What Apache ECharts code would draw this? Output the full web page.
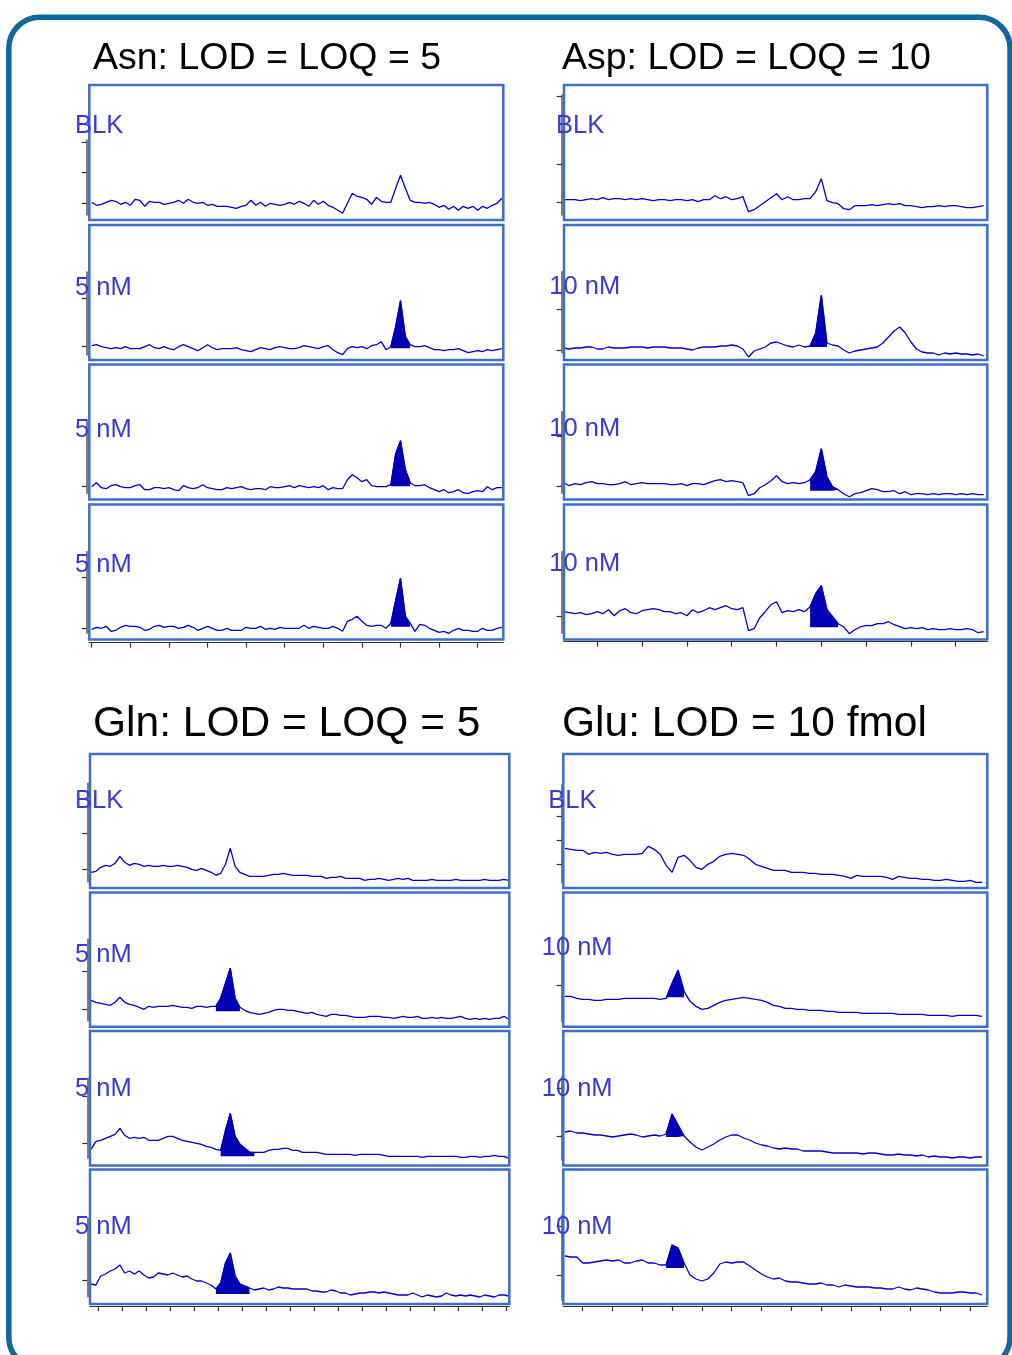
<!DOCTYPE html>
<html>
<head>
<meta charset="utf-8">
<script src="https://cdn.jsdelivr.net/npm/echarts@6/dist/echarts.min.js"></script>
<style>
  html, body { margin: 0; padding: 0; background: #fff; }
  #chart { width: 1012px; height: 1355px; }
</style>
</head>
<body>
<div id="chart"></div>
<script>
// signal traces, baseline-relative intensity (a.u.), uniform sampling per group
// Asn: t = 0 + 0.125 * i (min)
var asnBlk = [1,-2,-1,1,3,2,-1,1,-2,4, 3,-3,2,1,1,-1,0,1,3,0, 4,1,0,1,-2,-1,-3,-3,-3,-4,
  -5,-3,-2,3,-2,1,-3,0,-1,-2, -1,1,-1,2,0,-3,3,-1,2,-2, -4,-7,-10,0,10,7,6,4,-1,6,
  2,1,1,15,28,15,3,1,1,0, 1,-1,-4,-2,-6,-3,-7,-3,-5,-3, -7,-3,-5,-2,0,5];
var asn5a = [1,2,0,-1,-2,-1,-2,0,-2,-2, -2,0,2,-1,-2,0,-2,-3,0,2, 0,-2,-4,-1,2,-1,-3,-2,-2,-2,
  -1,-3,-4,-5,-3,-1,-2,-3,-1,0, -1,-2,-2,-1,1,0,-1,-2,0,1, -3,-6,-8,-2,0,-1,0,-2,1,2,
  5,-3,0,20,46,10,2,0,0,1, -1,-3,-3,-4,-3,-3,-2,-4,-6,-5, -4,-5,-3,-4,-3,-2];
var asn5b = [0,4,-1,-2,1,2,0,-1,-1,1, 2,-3,-3,-1,-1,-2,-1,-3,-4,1, -1,-2,-1,2,-1,-2,-3,-3,-1,-2,
  -1,0,-2,-3,-2,-2,-3,0,-1,-1, 0,1,-1,1,0,-1,0,-1,1,-3, -1,-2,-2,7,12,9,5,7,1,0,
  0,0,2,33,46,17,4,1,1,2, -1,-3,-5,-3,-6,-5,-3,-6,-7,-5, -4,-5,0,-3,-1,-1];
var asn5c = [-1,1,0,2,-3,-2,1,3,2,2, 1,-2,-1,2,3,1,2,2,0,1, 3,1,-2,0,2,0,-2,-2,0,-2,
  -2,-2,1,0,0,2,-1,0,-1,1, 0,0,0,0,3,0,2,1,0,0, 2,0,-3,7,9,12,7,3,2,3,
  3,0,5,28,50,12,5,-3,4,3, 0,-2,-4,-3,-5,-2,0,-2,-2,-3, -3,0,-2,-2,0,1];

// Asp: t = -0.75 + 0.125 * i
var aspBlk = [3,3,3,2,3,4,3,5,3,4, 4,3,4,3,4,3,2,3,3,2, 3,3,2,3,1,3,3,7,4,6,
  3,4,6,-9,-7,-3,1,5,9,3, 6,3,3,4,4,11,24,2,0,-1, -6,-7,-3,-3,-3,-2,-3,-2,-1,-2,
  -1,-3,-3,-4,-5,-4,-4,-3,-4,-3, -3,-4,-5,-5,-4,-3];
var asp10a = [2,1,2,2,3,3,1,1,3,2, 2,2,3,3,3,2,3,3,3,2, 2,2,1,0,2,3,3,3,4,4,
  5,4,1,-7,-1,1,3,7,8,6, 4,3,5,3,4,17,55,7,5,4, 0,-3,-1,0,1,2,3,7,13,19,
  23,17,8,1,-2,-3,-3,-5,-3,-4, -3,-4,-4,-5,-4,-6];
var asp10b = [4,1,3,2,4,5,3,3,2,2, 3,5,2,3,4,3,3,3,3,2, 2,3,1,3,3,2,4,6,7,5,
  6,5,4,-9,-7,-1,2,6,11,5, 3,4,3,4,7,15,38,10,0,-3, -7,-10,-7,-6,-4,-2,-3,-5,-5,-4,
  -7,-5,-8,-7,-7,-8,-7,-8,-7,-7, -8,-7,-8,-7,-8,-8];
var asp10c = [5,4,3,4,2,3,5,3,7,1, 6,8,4,3,6,7,8,7,5,5, 3,4,1,7,4,6,9,7,9,11,
  8,7,9,-14,-12,-1,5,12,15,4, 6,5,7,5,10,23,31,7,0,-7, -10,-17,-13,-10,-9,-9,-7,-7,-5,-8,
  -10,-12,-11,-12,-11,-13,-12,-13,-13,-12, -13,-13,-12,-13,-16,-15];

// Gln: t = -0.3 + 0.2 * i
var glnBlk = [-3,-2,2,4,3,6,13,7,4,6, 5,3,4,3,3,4,3,3,4,3, 2,0,-1,1,-1,-3,-6,-4,5,21,
  3,-3,-5,-7,-7,-7,-7,-6,-5,-5, -4,-5,-6,-6,-6,-6,-7,-7,-7,-9, -8,-8,-7,-9,-9,-9,-9,-11,-10,-10,
  -9,-10,-11,-10,-9,-10,-9,-11,-11,-11, -11,-10,-11,-11,-11,-11,-10,-11,-11,-11, -11,-11,-10,-11,-11,-11,-10,-11];
var gln5a = [9,7,6,5,4,7,12,7,5,4, 2,0,3,2,3,3,3,4,3,2, 2,1,3,3,2,3,3,11,26,41,
  11,2,-1,-3,-4,-5,-4,-3,-1,0, 0,-1,-1,-2,-3,-4,-3,-5,-6,-7, -5,-5,-6,-6,-7,-8,-8,-8,-7,-7,
  -7,-8,-8,-9,-8,-7,-8,-8,-7,-9, -9,-8,-9,-8,-9,-9,-8,-7,-9,-10, -9,-10,-9,-10,-9,-9,-7,-10];
var gln5b = [-6,2,3,5,7,9,15,8,5,6, 5,6,3,3,3,5,7,7,5,3, 2,1,0,-1,-3,-4,-6,-7,13,30,
  7,-1,-5,-9,-9,-9,-9,-7,-6,-6, -5,-5,-7,-7,-9,-9,-9,-9,-10,-11, -11,-11,-11,-11,-11,-12,-11,-11,-11,-11,
  -11,-12,-13,-13,-13,-13,-13,-13,-13,-14, -13,-13,-13,-13,-13,-13,-13,-14,-14,-13, -13,-14,-13,-13,-12,-13,-13,-15];
var gln5c = [-4,-5,4,6,9,11,15,7,9,6, 9,5,2,3,7,6,5,7,5,3, 4,1,-1,-1,-3,-5,-9,-3,17,27,
  4,-4,-6,-8,-10,-9,-8,-10,-9,-7, -8,-8,-9,-9,-9,-9,-11,-11,-12,-12, -10,-11,-13,-13,-15,-14,-13,-13,-12,-12,
  -13,-12,-13,-14,-15,-15,-15,-13,-15,-17, -15,-16,-17,-16,-13,-15,-16,-15,-16,-15, -16,-17,-15,-16,-17,-15,-15,-16];

// Glu: t = -0.6 + 0.2 * i
var gluBlk = [16,15,14,14,10,12,11,12,10,9, 10,10,10,11,18,15,10,-1,-8,7, 9,4,-3,-5,0,3,8,10,11,10,
  9,5,0,-2,-4,-6,-6,-6,-8,-8, -8,-9,-9,-10,-10,-10,-11,-12,-14,-11, -12,-12,-12,-12,-13,-15,-12,-13,-14,-14,
  -15,-15,-16,-16,-15,-16,-17,-17,-16,-18, -18];
var glu10a = [2,2,0,-1,-1,-2,-2,-1,-1,-1, 0,0,0,0,0,0,-1,0,15,28, 7,-3,-8,-11,-10,-7,-4,-2,-1,0,
  1,0,-1,-2,-4,-7,-8,-10,-10,-11, -11,-12,-12,-12,-13,-13,-14,-14,-14,-14, -15,-15,-15,-15,-15,-15,-16,-16,-16,-16,
  -16,-17,-17,-17,-17,-18,-17,-17,-17,-17, -18];
var glu10b = [4,5,3,3,2,1,1,0,-1,0, 1,2,1,-1,0,1,0,2,22,11, 0,-6,-11,-14,-11,-8,-4,-1,1,1,
  -2,-4,-7,-9,-10,-12,-13,-12,-13,-13, -15,-15,-15,-15,-16,-17,-17,-17,-17,-17, -18,-17,-17,-18,-19,-19,-18,-19,-19,-20,
  -19,-21,-20,-21,-21,-22,-21,-21,-22,-21, -21];
var glu10c = [19,18,18,12,12,13,14,15,14,15, 12,12,14,15,12,12,10,10,30,27, 12,0,-4,-6,-4,2,11,13,12,13,
  13,9,5,1,-2,-4,-3,-6,-7,-7, -8,-9,-9,-8,-10,-10,-12,-10,-11,-12, -12,-12,-13,-13,-14,-14,-12,-14,-15,-13,
  -14,-15,-17,-18,-18,-18,-17,-17,-18,-18, -20];

// x tick values (min)
var asnTicks = [0,1,2,3,4,5,6,7,8,9,10];
var aspTicks = [0,1,2,3,4,5,6,7,8];
var glnTicks = [0,1,2,3,4,5,6,7,8,9,10,11,12,13,14,15,16,17];
var gluTicks = [0,1,2,3,4,5,6,7,8,9,10,11,12,13];

// integrated peak windows: [tStart, tEnd, baseline]
var asnPeaks = [null, [7.75, 8.25, -1.5], [7.75, 8.25, 0.5], [7.75, 8.25, 1.5]];
var aspPeaks = [null, [4.75, 5.125, 3], [4.75, 5.375, -4], [4.75, 5.375, -10.5]];
var glnPeaks = [null, [4.9, 5.9, -2], [5.1, 6.5, -13], [4.9, 6.3, -14]];
var gluPeaks = [null, [2.8, 3.4, 1], [2.8, 3.4, -1], [2.8, 3.4, 7]];

// page layout (pixels)
var groups = [
  { title: 'Asn: LOD = LOQ = 5', tx: 93, ty: 56.5, ts: 37.5,
    fx: [89.3, 503.3], fy: [[85, 220], [225, 360], [364.5, 499.5], [504.5, 639.5]],
    xMin: -0.062, xMax: 10.663, t0: 0, dt: 0.125, ticks: asnTicks, xAxisY: 642.7, yAxisX: 86.7,
    peaks: asnPeaks,
    panels: [
      { label: 'BLK', lx: 75, ly: 124.5, axis: [140, 215], base: 203.3, yt: [142.3, 172.7, 203.3], data: asnBlk },
      { label: '5 nM', lx: 75, ly: 286.7, axis: [272, 355], base: 346.7, yt: [298.3, 346.7], data: asn5a },
      { label: '5 nM', lx: 75, ly: 428.3, axis: [420, 493.3], base: 486.7, yt: [486.7], data: asn5b },
      { label: '5 nM', lx: 75, ly: 563.3, axis: [551.7, 633.3], base: 628.3, yt: [577.3, 628.3], data: asn5c }
    ] },
  { title: 'Asp: LOD = LOQ = 10', tx: 562, ty: 56.5, ts: 37.5,
    fx: [564, 987.3], fy: [[85, 220], [225, 360], [364.5, 499.5], [504.5, 639.5]],
    xMin: -0.743, xMax: 8.705, t0: -0.75, dt: 0.125, ticks: aspTicks, xAxisY: 641.7, yAxisX: 561.7,
    peaks: aspPeaks,
    panels: [
      { label: 'BLK', lx: 556, ly: 124.7, axis: [95, 215], base: 202.7, yt: [96.7, 164.3, 202.7], data: aspBlk },
      { label: '10 nM', lx: 549.3, ly: 285.8, axis: [271.7, 353], base: 350, yt: [309.3, 350], data: asp10a },
      { label: '10 nM', lx: 549.3, ly: 428, axis: [411.7, 493.3], base: 486.7, yt: [436.7, 486.7], data: asp10b },
      { label: '10 nM', lx: 549.3, ly: 562.8, axis: [551.7, 633.3], base: 616.7, yt: [616.7], data: asp10c }
    ] },
  { title: 'Gln: LOD = LOQ = 5', tx: 93, ty: 722.5, ts: 42.5,
    fx: [90, 509.3], fy: [[754, 888], [892.5, 1026.7], [1031, 1165.5], [1169.5, 1304]],
    xMin: -0.346, xMax: 17.125, t0: -0.3, dt: 0.2, ticks: glnTicks, xAxisY: 1306, yAxisX: 87.3,
    peaks: glnPeaks,
    panels: [
      { label: 'BLK', lx: 75, ly: 800, axis: [783.3, 881.7], base: 869.3, yt: [833.3, 869.3], data: glnBlk },
      { label: '5 nM', lx: 75, ly: 953.3, axis: [939.3, 1020.7], base: 1009.3, yt: [971.7, 1009.3], data: gln5a },
      { label: '5 nM', lx: 75, ly: 1088, axis: [1078.3, 1158.3], base: 1143.3, yt: [1096.7, 1143.3], data: gln5b },
      { label: '5 nM', lx: 75, ly: 1226, axis: [1218.3, 1296.7], base: 1280, yt: [1280], data: gln5c }
    ] },
  { title: 'Glu: LOD = 10 fmol', tx: 562, ty: 722.5, ts: 42.5,
    fx: [563.3, 987.3], fy: [[754, 888], [892.5, 1026.7], [1031, 1165.5], [1169.5, 1304]],
    xMin: -0.651, xMax: 13.577, t0: -0.6, dt: 0.2, ticks: gluTicks, xAxisY: 1306, yAxisX: 561.7,
    peaks: gluPeaks,
    panels: [
      { label: 'BLK', lx: 548.3, ly: 799.5, axis: [785, 882.7], base: 864.3, yt: [816, 840.7, 864.3], data: gluBlk },
      { label: '10 nM', lx: 541.7, ly: 947, axis: [936.7, 1021.7], base: 998.3, yt: [985], data: glu10a },
      { label: '10 nM', lx: 541.7, ly: 1088, axis: [1076.7, 1160], base: 1136, yt: [1088.3, 1136], data: glu10b },
      { label: '10 nM', lx: 541.7, ly: 1226, axis: [1215, 1300], base: 1275, yt: [1226.7, 1275], data: glu10c }
    ] }
];

var FONT = '"Liberation Sans", Arial, Helvetica, sans-serif';
var TRACE = '#0000cc';
var FILL = '#0000b4';
var AXIS = '#333333';

var grids = [], xAxes = [], yAxes = [], series = [];
var graphics = [{
  type: 'rect', silent: true, z: 0,
  shape: { x: 8.8, y: 17.2, width: 1001.2, height: 1351, r: 31 },
  style: { fill: 'none', stroke: '#0e6a9c', lineWidth: 5.5 }
}];

groups.forEach(function (g) {
  graphics.push({
    type: 'text', silent: true, z: 20,
    style: { text: g.title, x: g.tx, y: g.ty + g.ts * 0.05, font: g.ts + 'px ' + FONT,
      fill: '#000', align: 'left', verticalAlign: 'middle' }
  });
  g.panels.forEach(function (p, k) {
    var idx = grids.length;
    var last = k === g.panels.length - 1;
    var fy = g.fy[k];
    graphics.push({
      type: 'rect', silent: true, z: 10,
      shape: { x: g.fx[0], y: fy[0], width: g.fx[1] - g.fx[0], height: fy[1] - fy[0] },
      style: { fill: 'none', stroke: '#3c70c8', lineWidth: 2.5 }
    });
    graphics.push({
      type: 'text', silent: true, z: 20,
      style: { text: p.label, x: p.lx, y: p.ly + 1.2, font: '25.5px ' + FONT,
        fill: '#3a3ad0', align: 'left', verticalAlign: 'middle' }
    });
    grids.push({ left: g.fx[0], top: p.axis[0], width: g.fx[1] - g.fx[0], height: p.axis[1] - p.axis[0] });
    xAxes.push({
      gridIndex: idx, type: 'value', min: g.xMin, max: g.xMax, show: last,
      position: 'bottom', offset: last ? g.xAxisY - p.axis[1] : 0,
      axisLine: { show: true, onZero: false, lineStyle: { color: AXIS, width: 1.2 } },
      axisTick: { show: true, length: 5, customValues: g.ticks, lineStyle: { color: AXIS, width: 1.2 } },
      axisLabel: { show: false }, splitLine: { show: false }
    });
    yAxes.push({
      gridIndex: idx, type: 'value', position: 'left',
      min: p.base - p.axis[1], max: p.base - p.axis[0],
      offset: g.fx[0] - g.yAxisX,
      axisLine: { show: true, onZero: false, lineStyle: { color: '#555555', width: 1.5 } },
      axisTick: { show: true, length: 5, customValues: p.yt.map(function (y) { return p.base - y; }),
        lineStyle: { color: AXIS, width: 1.2 } },
      axisLabel: { show: false }, splitLine: { show: false }
    });
    var pts = p.data.map(function (v, i) { return [g.t0 + i * g.dt, v]; });
    series.push({
      type: 'line', xAxisIndex: idx, yAxisIndex: idx, data: pts,
      symbol: 'none', clip: false, silent: true,
      lineStyle: { color: TRACE, width: 1.3 }
    });
    var pk = g.peaks[k];
    if (pk) {
      series.push({
        type: 'line', xAxisIndex: idx, yAxisIndex: idx,
        data: pts.filter(function (d) { return d[0] >= pk[0] - 1e-6 && d[0] <= pk[1] + 1e-6; }),
        symbol: 'none', clip: false, silent: true, z: 3,
        lineStyle: { color: FILL, width: 1.2 },
        areaStyle: { color: FILL, opacity: 1, origin: pk[2] }
      });
    }
  });
});

var chart = echarts.init(document.getElementById('chart'));
chart.setOption({
  backgroundColor: '#ffffff',
  animation: false,
  grid: grids,
  xAxis: xAxes,
  yAxis: yAxes,
  series: series,
  graphic: graphics
});
</script>
</body>
</html>
